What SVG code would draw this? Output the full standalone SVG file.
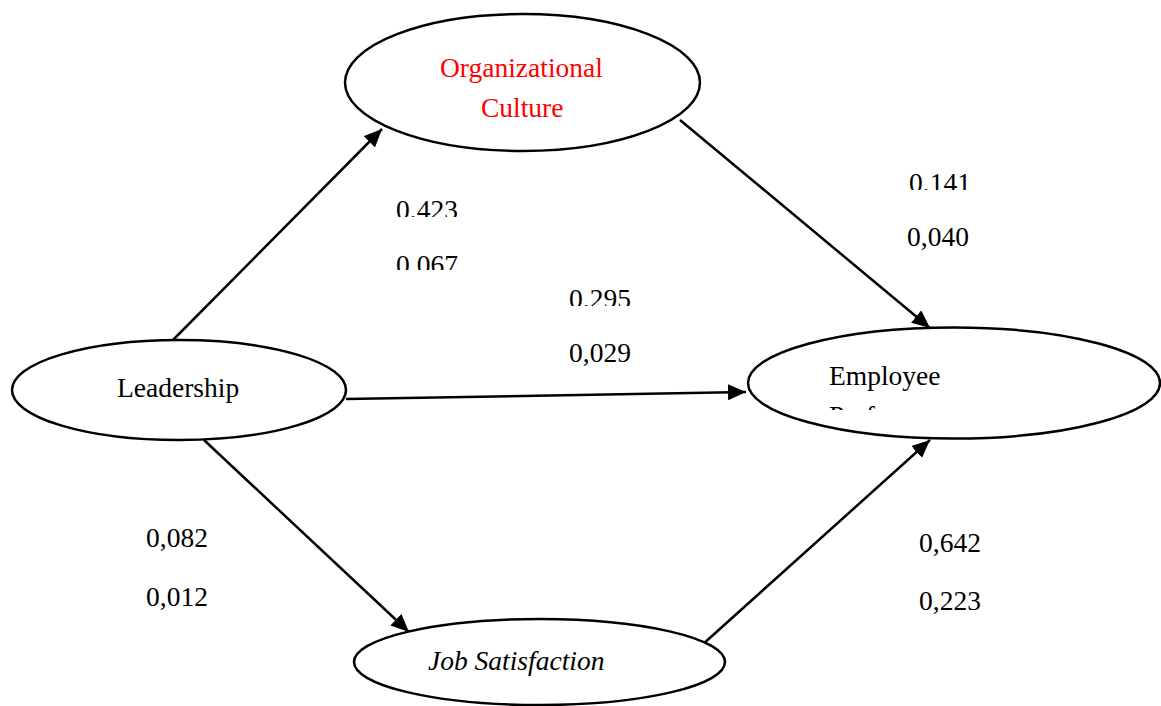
<svg xmlns="http://www.w3.org/2000/svg" width="1161" height="706" viewBox="0 0 1161 706">
<style>
.node{fill:#fff;stroke:#000;stroke-width:2.5}
.t{font-family:"Liberation Serif","Times New Roman",serif;font-size:27.5px;fill:#000}
.red{fill:#f00}
.it{font-style:italic}
.edge{stroke:#000;stroke-width:2.5;fill:none;marker-end:url(#ah)}
</style>
<defs>
<marker id="ah" markerUnits="userSpaceOnUse" markerWidth="20" markerHeight="16" refX="18" refY="8" orient="auto">
<path d="M0,0 L18,8 L0,16 Z" fill="#000"/>
</marker>
<clipPath id="c1"><rect x="380" y="190" width="100" height="27"/></clipPath>
<clipPath id="c2"><rect x="380" y="245" width="100" height="25"/></clipPath>
<clipPath id="c3"><rect x="895" y="160" width="100" height="30"/></clipPath>
<clipPath id="c4"><rect x="555" y="280" width="100" height="26"/></clipPath>
<clipPath id="c5"><rect x="760" y="330" width="300" height="80"/></clipPath>
</defs>
<rect width="1161" height="706" fill="#fff"/>
<g id="connectors">
<line class="edge" x1="173" y1="340" x2="382" y2="129"/>
<line class="edge" x1="680" y1="120" x2="930" y2="328"/>
<line class="edge" x1="346" y1="399" x2="746" y2="392"/>
<line class="edge" x1="204" y1="440" x2="409" y2="632"/>
<line class="edge" x1="702" y1="645" x2="930" y2="440"/>
</g>
<g id="org-culture">
<ellipse class="node" cx="522.5" cy="82.5" rx="177.5" ry="68.5"/>
<text class="t red" x="440" y="77">Organizational</text>
<text class="t red" x="481" y="117">Culture</text>
</g>
<g id="leadership">
<ellipse class="node" cx="179" cy="390" rx="167" ry="50"/>
<text class="t" x="117" y="397">Leadership</text>
</g>
<g id="employee-performance">
<ellipse class="node" cx="954" cy="383" rx="206" ry="55.5"/>
<text class="t" x="829" y="385">Employee</text>
<text class="t" x="829" y="425" clip-path="url(#c5)">Performance</text>
</g>
<g id="job-satisfaction">
<ellipse class="node" cx="539.5" cy="662" rx="185.5" ry="43"/>
<text class="t it" x="428" y="670">Job Satisfaction</text>
</g>
<g id="labels">
<text class="t" x="396" y="219" clip-path="url(#c1)">0,423</text>
<text class="t" x="396" y="274" clip-path="url(#c2)">0,067</text>
<text class="t" x="909" y="192" clip-path="url(#c3)">0,141</text>
<text class="t" x="907" y="246">0,040</text>
<text class="t" x="569" y="308" clip-path="url(#c4)">0,295</text>
<text class="t" x="569" y="362">0,029</text>
<text class="t" x="146" y="547">0,082</text>
<text class="t" x="146" y="606">0,012</text>
<text class="t" x="919" y="552">0,642</text>
<text class="t" x="919" y="610">0,223</text>
</g>
</svg>
